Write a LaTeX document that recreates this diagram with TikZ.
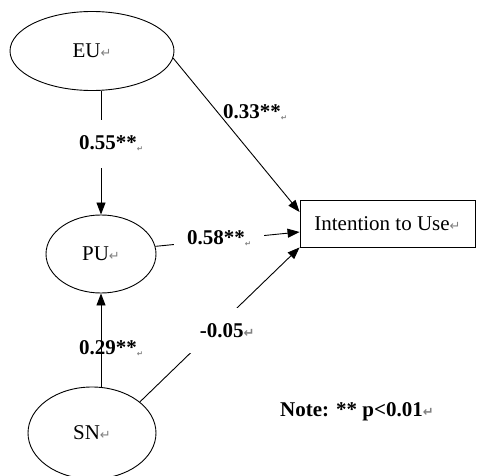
\documentclass[tikz,border=0pt]{standalone}
\usepackage{fontspec}
\setmainfont{Liberation Serif}
\newfontfamily\djv{DejaVu Sans}
\usetikzlibrary{shapes.geometric,arrows.meta}
\newcommand{\bigmark}{{\djv\fontsize{13}{13}\selectfont\color{gray}↵}}
\newcommand{\tinymark}{{\djv\fontsize{7.5}{7.5}\selectfont\color{gray}\raisebox{-2pt}{↵}}}
\begin{document}
\begin{tikzpicture}[x=1pt,y=-1pt,
  ell/.style={draw, ellipse, inner sep=0pt, line width=0.9pt, font=\fontsize{21}{24}\selectfont},
  ubox/.style={draw, rectangle, inner sep=0pt, line width=0.9pt, font=\fontsize{21}{24}\selectfont},
  lab/.style={font=\bfseries\fontsize{21}{24}\selectfont, inner sep=0pt},
  arr/.style={-{Triangle[length=12pt,width=9pt]}, line width=0.9pt}]
\useasboundingbox (0,0) rectangle (477,476);
\node[ell, minimum width=164pt, minimum height=79pt] (EU) at (92,51) {EU\bigmark};
\node[ell, minimum width=110pt, minimum height=78pt] (PU) at (101,254) {PU\bigmark};
\node[ell, minimum width=128pt, minimum height=92pt] (SN) at (92,433) {SN\bigmark};
\node[ubox, minimum width=175pt, minimum height=47pt] (IU) at (387.5,223.5) {Intention to Use\bigmark};

\draw[arr] (EU.south -| PU.north) -- (PU.north);
\draw[arr] (SN.north -| PU.south) -- (PU.south);
\draw[arr] (EU.-5) -- ([yshift=11.5pt]IU.west);
\draw[arr] (PU.8) -- ([yshift=-8.5pt]IU.west);
\draw[arr] (SN.33) -- (IU.south west);

\node[lab, fill=white, minimum height=48pt, anchor=west] (l55) at (79,144) {0.55**\tinymark};
\node[lab, anchor=west] (l33) at (223,113) {0.33**\tinymark};
\node[lab, fill=white, minimum height=20pt, inner xsep=13pt, anchor=west] (l58) at (174,239) {0.58**\tinymark};
\node[lab, fill=white, minimum height=45pt, minimum width=66pt, anchor=north west] (l05) at (190,308) {\hspace*{8pt}-0.05\bigmark};
\node[lab, anchor=west] (l29) at (79,349) {0.29**\tinymark};
\node[lab, anchor=west] (note) at (280,412) {Note: ** p<0.01\bigmark};
\end{tikzpicture}
\end{document}
